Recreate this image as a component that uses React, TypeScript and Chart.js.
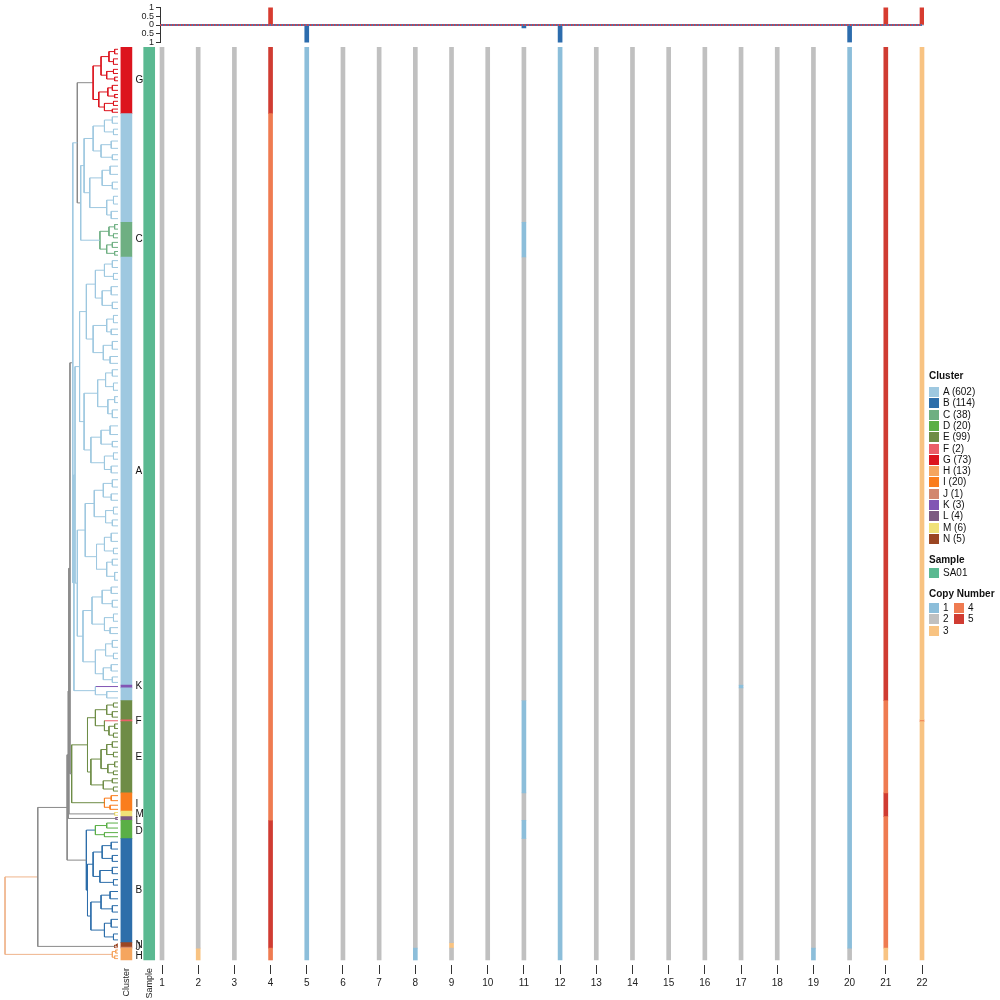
import React, { useEffect, useRef } from 'react';
import { Chart, registerables } from 'chart.js';

Chart.register(...registerables);

const FONT = '"Liberation Sans", Arial, Helvetica, sans-serif';

// ---------------- data ----------------
const chromosomes = [1, 2, 3, 4, 5, 6, 7, 8, 9, 10, 11, 12, 13, 14, 15, 16, 17, 18, 19, 20, 21, 22];

const clusterNames = ['A', 'B', 'C', 'D', 'E', 'F', 'G', 'H', 'I', 'J', 'K', 'L', 'M', 'N'];
const clusterCounts = [602, 114, 38, 20, 99, 2, 73, 13, 20, 1, 3, 4, 6, 5];
const clusterColors = ['#9ec8e0', '#2d6eaa', '#6eaf82', '#5aaf46', '#6e8c46', '#eb5f69', '#dc141e', '#f5a55f', '#fa7d1e', '#d2876e', '#8255b4', '#7d5a82', '#f0e178', '#9b4623'];

const sampleNames = ['SA01'];
const sampleColors = ['#5ab991'];

const copyNumberStates = [1, 2, 3, 4, 5];
const copyNumberColors = ['#8cbeda', '#c0c0c0', '#f8c382', '#ef7b51', '#d03c32'];

// row blocks of cells, top to bottom, in dendrogram order
const blockClusters = ['G', 'A', 'C', 'A', 'K', 'A', 'E', 'F', 'E', 'I', 'M', 'L', 'D', 'B', 'N', 'J', 'H'];
const blockSizes = [73, 119, 38, 469, 3, 14, 21, 2, 78, 20, 6, 4, 20, 114, 5, 1, 13];
const blockCopyNumber = [
  // 1 2 3 4 5 6 7 8 9 10 11 12 13 14 15 16 17 18 19 20 21 22
  [2, 2, 2, 5, 1, 2, 2, 2, 2, 2, 2, 1, 2, 2, 2, 2, 2, 2, 2, 1, 5, 3], // G
  [2, 2, 2, 4, 1, 2, 2, 2, 2, 2, 2, 1, 2, 2, 2, 2, 2, 2, 2, 1, 5, 3], // A
  [2, 2, 2, 4, 1, 2, 2, 2, 2, 2, 1, 1, 2, 2, 2, 2, 2, 2, 2, 1, 5, 3], // C
  [2, 2, 2, 4, 1, 2, 2, 2, 2, 2, 2, 1, 2, 2, 2, 2, 2, 2, 2, 1, 5, 3], // A
  [2, 2, 2, 4, 1, 2, 2, 2, 2, 2, 2, 1, 2, 2, 2, 2, 1, 2, 2, 1, 5, 3], // K
  [2, 2, 2, 4, 1, 2, 2, 2, 2, 2, 2, 1, 2, 2, 2, 2, 2, 2, 2, 1, 5, 3], // A
  [2, 2, 2, 4, 1, 2, 2, 2, 2, 2, 1, 1, 2, 2, 2, 2, 2, 2, 2, 1, 4, 3], // E
  [2, 2, 2, 4, 1, 2, 2, 2, 2, 2, 1, 1, 2, 2, 2, 2, 2, 2, 2, 1, 4, 4], // F
  [2, 2, 2, 4, 1, 2, 2, 2, 2, 2, 1, 1, 2, 2, 2, 2, 2, 2, 2, 1, 4, 3], // E
  [2, 2, 2, 4, 1, 2, 2, 2, 2, 2, 2, 1, 2, 2, 2, 2, 2, 2, 2, 1, 5, 3], // I
  [2, 2, 2, 4, 1, 2, 2, 2, 2, 2, 2, 1, 2, 2, 2, 2, 2, 2, 2, 1, 5, 3], // M
  [2, 2, 2, 4, 1, 2, 2, 2, 2, 2, 2, 1, 2, 2, 2, 2, 2, 2, 2, 1, 4, 3], // L
  [2, 2, 2, 5, 1, 2, 2, 2, 2, 2, 1, 1, 2, 2, 2, 2, 2, 2, 2, 1, 4, 3], // D
  [2, 2, 2, 5, 1, 2, 2, 2, 2, 2, 2, 1, 2, 2, 2, 2, 2, 2, 2, 1, 4, 3], // B
  [2, 2, 2, 5, 1, 2, 2, 2, 3, 2, 2, 1, 2, 2, 2, 2, 2, 2, 2, 1, 4, 3], // N
  [2, 2, 2, 5, 1, 2, 2, 2, 3, 2, 2, 1, 2, 2, 2, 2, 2, 2, 2, 1, 4, 3], // J
  [2, 3, 2, 4, 1, 2, 2, 1, 2, 2, 2, 1, 2, 2, 2, 2, 2, 2, 1, 2, 3, 3], // H
];

// fraction of cells with gain / loss per chromosome (top track)
const gainFraction = [0, 0.01, 0, 1, 0, 0, 0, 0, 0.01, 0, 0, 0, 0, 0, 0, 0, 0, 0, 0, 0, 1, 1];
const lossFraction = [0, 0, 0, 0, 1, 0, 0, 0.01, 0, 0, 0.16, 1, 0, 0, 0, 0, 0.003, 0, 0.01, 0.99, 0, 0];
const fractionTicks = [-1, -0.5, 0, 0.5, 1];

// dendrogram: [merge height, left, right]; a number is a leaf group of that many cells
type Tree = number | [number, Tree, Tree];
const treeG: Tree = [0.22, [0.15, [0.08, [0.03, 5, 5], [0.04, 6, 6]], [0.10, [0.04, 5, 4], [0.03, 4, 4]]], [0.17, [0.09, [0.05, 6, 5], [0.03, 4, 3]], [0.12, [0.04, 5, 4], [0.05, 4, 3]]]];
const treeA1: Tree = [0.30, [0.22, [0.12, [0.05, 7, 7], [0.04, 6, 6]], [0.15, [0.06, 8, 8], [0.05, 6, 5]]], [0.25, [0.14, [0.07, 9, 9], [0.05, 8, 7]], [0.10, [0.04, 9, 8], [0.06, 8, 8]]]];
const treeC: Tree = [0.16, [0.08, [0.03, 5, 5], [0.04, 5, 4]], [0.10, [0.05, 6, 5], [0.03, 4, 4]]];
const treeA2: Tree = [0.38,
  [0.34,
    [0.28, [0.20, [0.12, [0.05, 8, 7], [0.04, 6, 7]], [0.14, [0.06, 9, 9], [0.05, 7, 7]]], [0.22, [0.10, [0.04, 8, 8], [0.06, 6, 6]], [0.13, [0.05, 9, 8], [0.07, 8, 7]]]],
    [0.30, [0.18, [0.11, [0.05, 7, 7], [0.04, 8, 8]], [0.09, [0.03, 6, 7], [0.05, 9, 8]]], [0.24, [0.15, [0.07, 10, 9], [0.05, 6, 6]], [0.12, [0.04, 7, 7], [0.06, 8, 7]]]]],
  [0.36,
    [0.29, [0.21, [0.13, [0.05, 8, 8], [0.06, 7, 7]], [0.11, [0.04, 8, 7], [0.05, 6, 7]]], [0.19, [0.12, [0.06, 9, 9], [0.04, 6, 6]], [0.10, [0.05, 6, 7], [0.03, 9, 8]]]],
    [0.31, [0.23, [0.14, [0.06, 7, 7], [0.05, 8, 7]], [0.12, [0.04, 8, 8], [0.07, 6, 7]]], [0.20, [0.11, [0.05, 8, 7], [0.04, 6, 6]], [0.13, [0.06, 7, 7], [0.05, 6, 6]]]]]];
const treeKA3: Tree = [0.20, 3, [0.10, 8, 6]];
const treeE: Tree = [0.27, [0.20, [0.10, [0.04, 5, 4], [0.05, 6, 6]], [0.12, 2, [0.08, [0.03, 5, 5], [0.04, 5, 4]]]], [0.24, [0.15, [0.10, [0.05, 6, 6], [0.04, 5, 5]], [0.09, [0.03, 6, 5], [0.04, 4, 4]]], [0.13, [0.05, 5, 4], [0.04, 5, 4]]]];
const treeI: Tree = [0.12, [0.06, 6, 5], [0.07, 5, 4]];
const treeM: Tree = [0.03, 3, 3];
const treeL: Tree = [0.02, 2, 2];
const treeD: Tree = [0.20, [0.10, 6, 5], [0.12, 5, 4]];
const treeB: Tree = [0.27, [0.22, [0.14, [0.06, 8, 7], [0.05, 7, 6]], [0.16, [0.05, 7, 7], [0.04, 6, 6]]], [0.24, [0.15, [0.07, 8, 8], [0.05, 7, 7]], [0.12, [0.06, 9, 8], [0.04, 7, 6]]]];
const treeNJ: Tree = [0.03, [0.01, 3, 2], 1];
const treeH: Tree = [0.05, [0.02, 4, 3], [0.03, 3, 3]];
const dendrogram: Tree = [1.0,
  [0.71,
    [0.45,
      [0.44, [0.435, [0.425, [0.40, [0.36, treeG, [0.33, treeA1, treeC]], [0.39, treeA2, treeKA3]], [0.41, treeE, treeI]], treeM], treeL],
      [0.28, treeD, treeB]],
    treeNJ],
  treeH];

// ---------------- layout constants ----------------
const CHR_PX = 760 / 21; // pixels per chromosome step
const ROW_MAX = 1005.5;
const AREA_TOP = 47;
const AXIS_H = 35;
const HEAT_LEFT = 140;
const HEAT_W = 804;
const HEAT_XMIN = 1 - (162 - HEAT_LEFT) / CHR_PX;
const HEAT_XMAX = HEAT_XMIN + HEAT_W / CHR_PX;
const TOP_LEFT = 100;
const TOP_W = 840;
const TOP_AXIS_W = 60;
const TOP_PAD_R = 16;
const TOP_XMIN = 1 - (162 - (TOP_LEFT + TOP_AXIS_W)) / CHR_PX;
const TOP_XMAX = TOP_XMIN + (TOP_W - TOP_AXIS_W - TOP_PAD_R) / CHR_PX;
const ROOT_COLOR = '#efb48c';
const MIXED_COLOR = '#8a8a8a';

// ---------------- helpers ----------------
const colorOf = (name: string) => clusterColors[clusterNames.indexOf(name)];

function blockStarts() {
  const starts: number[] = [];
  let c = 0;
  blockSizes.forEach((s) => { starts.push(c); c += s; });
  return starts;
}

function cellClusters() {
  const arr: string[] = [];
  blockSizes.forEach((s, i) => { for (let k = 0; k < s; k++) arr.push(blockClusters[i]); });
  return arr;
}

function majorityColor(cells: string[], start: number, end: number, threshold: number) {
  const counts: Record<string, number> = {};
  for (let i = start; i < end; i++) counts[cells[i]] = (counts[cells[i]] || 0) + 1;
  let best = '';
  let bestN = 0;
  Object.keys(counts).forEach((k) => { if (counts[k] > bestN) { bestN = counts[k]; best = k; } });
  return bestN / (end - start) >= threshold ? colorOf(best) : MIXED_COLOR;
}

function dendrogramDatasets() {
  const cells = cellClusters();
  const byColor: Record<string, any[]> = {};
  const add = (color: string, pts: number[][]) => {
    if (!byColor[color]) byColor[color] = [];
    const arr = byColor[color];
    if (arr.length) arr.push({ x: NaN, y: NaN });
    pts.forEach(([x, y]) => arr.push({ x, y }));
  };
  let cursor = 0;
  const rec = (t: Tree, isRoot: boolean): any => {
    if (typeof t === 'number') {
      const s = cursor;
      cursor += t;
      return { y: s + t / 2, h: 0, start: s, end: cursor, leaf: true };
    }
    const [h, a, b] = t;
    const ca = rec(a, false);
    const cb = rec(b, false);
    const color = isRoot ? ROOT_COLOR : majorityColor(cells, ca.start, cb.end, 0.75);
    add(color, [[h, ca.y], [h, cb.y]]);
    [ca, cb].forEach((c) => {
      const col = c.leaf && !isRoot ? majorityColor(cells, c.start, c.end, 0) : color;
      add(col, [[c.h, c.y], [h, c.y]]);
    });
    return { y: (ca.y + cb.y) / 2, h, start: ca.start, end: cb.end, leaf: false };
  };
  rec(dendrogram, true);
  return Object.keys(byColor).map((color) => ({
    data: byColor[color],
    showLine: true,
    borderColor: color,
    borderWidth: 1,
    pointRadius: 0,
    spanGaps: false,
    tension: 0,
  }));
}

function heatmapDatasets() {
  const starts = blockStarts();
  return copyNumberStates.map((state, si) => {
    const data: any[] = [];
    chromosomes.forEach((chr, ci) => {
      let runStart = -1;
      for (let b = 0; b <= blockSizes.length; b++) {
        const match = b < blockSizes.length && blockCopyNumber[b][ci] === state;
        if (match && runStart < 0) runStart = starts[b];
        if (!match && runStart >= 0) {
          const end = b < blockSizes.length ? starts[b] : starts[b - 1] + blockSizes[b - 1];
          data.push({ x: chr, y: [runStart, end] });
          runStart = -1;
        }
      }
    });
    return {
      label: String(state),
      data,
      backgroundColor: copyNumberColors[si],
      borderWidth: 0,
      barThickness: 4,
      grouped: false,
    };
  });
}

// ---------------- generic chart box ----------------
function ChartBox({ left, top, width, height, make }: any) {
  const ref = useRef<HTMLCanvasElement>(null);
  useEffect(() => {
    const chart = new Chart(ref.current as HTMLCanvasElement, make());
    return () => chart.destroy();
  }, []);
  return (
    <canvas
      ref={ref}
      width={width}
      height={height}
      style={{ position: 'absolute', left, top, width, height }}
    />
  );
}

const noPlugins = { legend: { display: false }, tooltip: { enabled: false } };

function makeDendrogram() {
  return {
    type: 'scatter',
    data: { datasets: dendrogramDatasets() },
    options: {
      animation: false,
      responsive: false,
      devicePixelRatio: 1,
      layout: { padding: { top: AREA_TOP, bottom: AXIS_H, left: 0, right: 2 } },
      plugins: noPlugins,
      scales: {
        x: { type: 'linear', display: false, reverse: true, min: 0, max: 118 / 113 },
        y: { type: 'linear', display: false, reverse: true, min: 0, max: ROW_MAX },
      },
    },
  };
}

function makeAnnotation() {
  const starts = blockStarts();
  const clusterData = blockSizes.map((s, i) => ({ x: 'Cluster', y: [starts[i], starts[i] + s] }));
  const clusterBg = blockClusters.map((c) => colorOf(c));
  const total = blockSizes.reduce((a, b) => a + b, 0);
  const nudge: Record<string, number> = { I: 2, L: 3, D: 2, H: 2 };
  const labelRows = clusterNames.map((name) => {
    let best = -1;
    blockClusters.forEach((c, i) => { if (c === name && (best < 0 || blockSizes[i] > blockSizes[best])) best = i; });
    return { name, row: starts[best] + blockSizes[best] / 2 + (nudge[name] || 0) };
  });
  const labelPlugin = {
    id: 'clusterLabels',
    afterDatasetsDraw(chart: any) {
      const { ctx, scales } = chart;
      const x = scales.x.getPixelForValue(0) + 9;
      ctx.save();
      ctx.font = `10px ${FONT}`;
      ctx.fillStyle = '#111';
      ctx.textAlign = 'left';
      ctx.textBaseline = 'middle';
      labelRows.forEach((l) => ctx.fillText(l.name, x, scales.y.getPixelForValue(l.row)));
      ctx.restore();
    },
  };
  return {
    type: 'bar',
    data: {
      labels: ['Cluster', 'Sample'],
      datasets: [
        { label: 'Cluster', data: clusterData, backgroundColor: clusterBg, borderWidth: 0, barThickness: 11, grouped: false },
        { label: 'Sample', data: [{ x: 'Sample', y: [0, total] }], backgroundColor: sampleColors[0], borderWidth: 0, barThickness: 11, grouped: false },
      ],
    },
    plugins: [labelPlugin],
    options: {
      animation: false,
      responsive: false,
      devicePixelRatio: 1,
      layout: { padding: { top: AREA_TOP, bottom: 0, left: 0, right: 0 } },
      plugins: noPlugins,
      scales: {
        x: {
          type: 'category',
          offset: true,
          grid: { display: false, drawTicks: false, tickLength: 0 },
          border: { display: false },
          ticks: { autoSkip: false, minRotation: 90, maxRotation: 90, padding: 3, color: '#222', font: { family: FONT, size: 9 } },
          afterFit: (s: any) => { s.height = AXIS_H; },
        },
        y: { type: 'linear', display: false, reverse: true, min: 0, max: ROW_MAX },
      },
    },
  };
}

function makeHeatmap() {
  return {
    type: 'bar',
    data: { datasets: heatmapDatasets() },
    options: {
      animation: false,
      responsive: false,
      devicePixelRatio: 1,
      layout: { padding: { top: AREA_TOP, bottom: 0, left: 0, right: 0 } },
      plugins: noPlugins,
      scales: {
        x: {
          type: 'linear',
          min: HEAT_XMIN,
          max: HEAT_XMAX,
          offset: false,
          grid: { display: true, offset: false, drawOnChartArea: false, drawTicks: true, tickLength: 9, color: '#333', lineWidth: 1 },
          border: { display: false },
          ticks: { autoSkip: false, maxRotation: 0, padding: 3, color: '#222', font: { family: FONT, size: 10 }, callback: (v: any) => String(v) },
          afterBuildTicks: (s: any) => { s.ticks = chromosomes.map((c) => ({ value: c })); },
          afterFit: (s: any) => { s.height = AXIS_H; },
        },
        y: { type: 'linear', display: false, reverse: true, min: 0, max: ROW_MAX },
      },
    },
  };
}

function makeTopTrack() {
  return {
    type: 'bar',
    data: {
      datasets: [
        { type: 'line', label: 'loss', data: [{ x: TOP_XMIN, y: 0 }, { x: 22, y: 0 }], borderColor: '#4a74b4', borderWidth: 2, pointRadius: 0, order: 1 },
        { type: 'line', label: 'gain', data: [{ x: TOP_XMIN, y: 0 }, { x: 22, y: 0 }], borderColor: '#d0404a', borderWidth: 2, borderDash: [1.5, 1.5], pointRadius: 0, order: 0 },
        { label: 'Gain', data: chromosomes.map((c, i) => ({ x: c, y: gainFraction[i] })), backgroundColor: '#d73c30', borderWidth: 0, barThickness: 4, grouped: false, order: 2 },
        { label: 'Loss', data: chromosomes.map((c, i) => ({ x: c, y: -lossFraction[i] })), backgroundColor: '#2c6cad', borderWidth: 0, barThickness: 4, grouped: false, order: 2 },
      ],
    },
    options: {
      animation: false,
      responsive: false,
      devicePixelRatio: 1,
      layout: { padding: { top: 6, bottom: 6.5, left: 0, right: TOP_PAD_R } },
      plugins: noPlugins,
      scales: {
        x: { type: 'linear', display: false, min: TOP_XMIN, max: TOP_XMAX, offset: false, grid: { offset: false } },
        y: {
          type: 'linear',
          min: -1,
          max: 1,
          grid: { display: true, drawOnChartArea: false, drawTicks: true, tickLength: 4, color: '#333' },
          border: { display: true, color: '#333', width: 1 },
          ticks: { autoSkip: false, padding: 2, color: '#222', font: { family: FONT, size: 9 }, callback: (v: any) => String(Math.abs(Number(v))) },
          afterBuildTicks: (s: any) => { s.ticks = fractionTicks.map((v) => ({ value: v })); },
          afterFit: (s: any) => { s.width = TOP_AXIS_W; },
        },
      },
    },
  };
}

// ---------------- legend ----------------
function Legend() {
  const text: any = { position: 'absolute', fontFamily: FONT, fontSize: 10, lineHeight: '12px', color: '#111', whiteSpace: 'nowrap' };
  const els: any[] = [];
  const title = (label: string, cy: number) => {
    els.push(<div key={'t' + label} style={{ ...text, left: 929, top: cy - 6, fontWeight: 'bold' }}>{label}</div>);
  };
  const item = (key: string, x: number, cy: number, color: string, label: string) => {
    els.push(<div key={'s' + key} style={{ position: 'absolute', left: x, top: cy - 5, width: 10, height: 10, background: color }} />);
    els.push(<div key={'l' + key} style={{ ...text, left: x + 14, top: cy - 6 }}>{label}</div>);
  };
  title('Cluster', 376);
  clusterNames.forEach((n, i) => item('c' + n, 929, 392 + i * 11.3, clusterColors[i], `${n} (${clusterCounts[i]})`));
  title('Sample', 560);
  sampleNames.forEach((n, i) => item('s' + n, 929, 573 + i * 11.3, sampleColors[i], n));
  title('Copy Number', 594);
  copyNumberStates.forEach((s, i) => {
    const col = i < 3 ? 0 : 1;
    const row = i < 3 ? i : i - 3;
    item('n' + s, 929 + col * 25, 608 + row * 11.3, copyNumberColors[i], String(s));
  });
  return <>{els}</>;
}

export default function App() {
  return (
    <div style={{ position: 'fixed', left: 0, top: 0, width: 1000, height: 1000, background: '#fff', overflow: 'hidden' }}>
      <ChartBox left={0} top={0} width={120} height={1000} make={makeDendrogram} />
      <ChartBox left={115} top={0} width={48} height={1000} make={makeAnnotation} />
      <ChartBox left={HEAT_LEFT} top={0} width={HEAT_W} height={1000} make={makeHeatmap} />
      <ChartBox left={TOP_LEFT} top={0} width={TOP_W} height={50} make={makeTopTrack} />
      <Legend />
    </div>
  );
}
